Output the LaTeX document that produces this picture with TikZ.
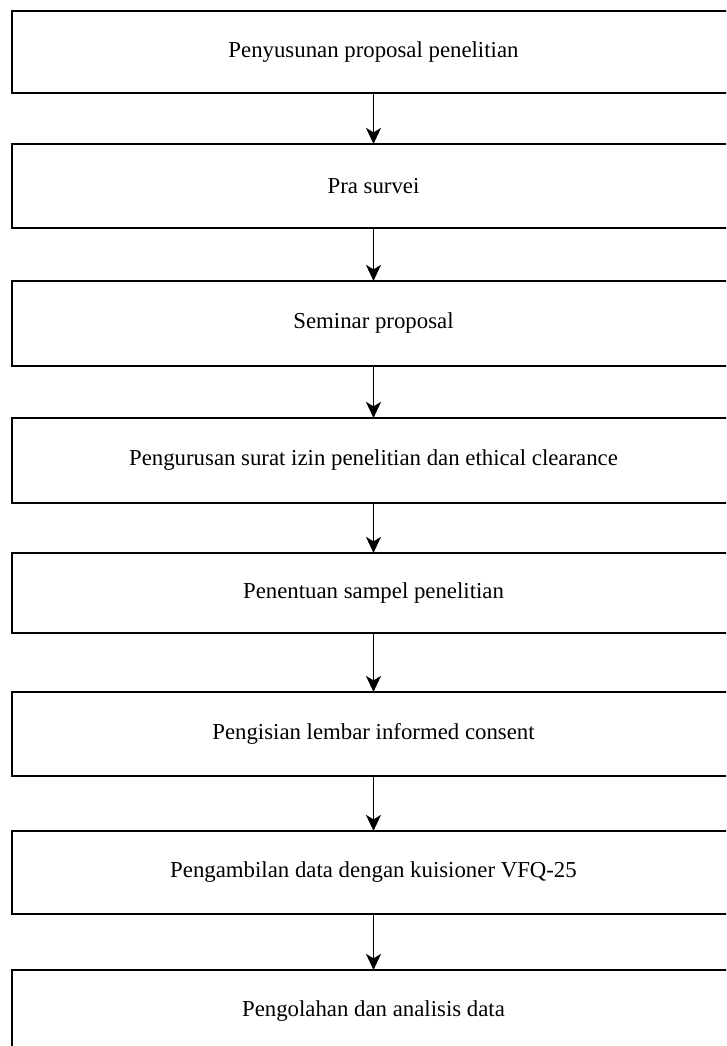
\documentclass[tikz,border=0pt]{standalone}
\usepackage{fontspec}
\setmainfont{Liberation Serif}
\usetikzlibrary{arrows.meta}
\begin{document}
\begin{tikzpicture}[x=1pt,y=-1pt,
  stepbox/.style={draw=black, line width=2.2pt, minimum width=722.4pt, inner sep=0pt, font=\fontsize{22.8pt}{26pt}\selectfont, text=black},
  flow/.style={draw=black, line width=1.8pt, -{Stealth[length=16pt,width=15pt,inset=4.5pt]}, shorten >=-1pt}]
\useasboundingbox (0,0) rectangle (726,1046);
\clip (0,0) rectangle (726,1046);
\node[stepbox, minimum height=82pt] (b1) at (373.5,52) {Penyusunan proposal penelitian};
\node[stepbox, minimum height=84pt] (b2) at (373.5,186) {Pra survei};
\node[stepbox, minimum height=85pt] (b3) at (373.5,323.5) {Seminar proposal};
\node[stepbox, minimum height=85pt] (b4) at (373.5,460.5) {Pengurusan surat izin penelitian dan ethical clearance};
\node[stepbox, minimum height=80pt] (b5) at (373.5,593) {Penentuan sampel penelitian};
\node[stepbox, minimum height=84pt] (b6) at (373.5,734) {Pengisian lembar informed consent};
\node[stepbox, minimum height=83pt] (b7) at (373.5,872.5) {Pengambilan data dengan kuisioner VFQ-25};
\node[stepbox, minimum height=82pt] (b8) at (373.5,1011) {Pengolahan dan analisis data};
\draw[flow] (b1) -- (b2);
\draw[flow] (b2) -- (b3);
\draw[flow] (b3) -- (b4);
\draw[flow] (b4) -- (b5);
\draw[flow] (b5) -- (b6);
\draw[flow] (b6) -- (b7);
\draw[flow] (b7) -- (b8);
\end{tikzpicture}
\end{document}
